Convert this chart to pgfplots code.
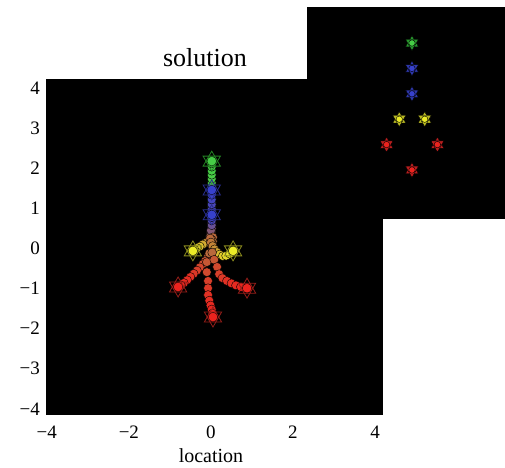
\documentclass[border=0pt]{standalone}
\usepackage{pgfplots}
\pgfplotsset{compat=1.18}
\usepackage{fontspec}
\setmainfont{Liberation Serif}
\definecolor{gfin}{RGB}{70,205,70}
\definecolor{bfin}{RGB}{55,65,205}
\definecolor{yfin}{RGB}{235,235,40}
\definecolor{rfin}{RGB}{235,35,30}
\definecolor{gout}{RGB}{35,130,35}
\definecolor{bout}{RGB}{40,45,140}
\definecolor{yout}{RGB}{140,140,30}
\definecolor{rout}{RGB}{150,30,25}
\definecolor{giout}{RGB}{40,150,45}
\definecolor{biout}{RGB}{45,55,170}
\definecolor{yiout}{RGB}{185,185,35}
\definecolor{riout}{RGB}{185,30,30}
\pgfplotsset{
  traj/.style={scatter, only marks, mark=*, point meta=explicit,
    point meta min=0, point meta max=1,
    scatter/use mapped color={draw=none, fill=mapped color, scale=1.3}},
  hexup/.style={only marks, mark=triangle, mark size=10bp, mark options={line width=0.8bp, draw=#1, fill=none}},
  hexdn/.style={only marks, mark=triangle, mark size=10bp, mark options={line width=0.8bp, draw=#1, fill=none, rotate=180}},
  ihexup/.style={only marks, mark=triangle*, mark size=7.5bp, mark options={draw=none, fill=#1}},
  ihexdn/.style={only marks, mark=triangle*, mark size=7.5bp, mark options={draw=none, fill=#1, rotate=180}},
}
\begin{document}
\begin{tikzpicture}[x=1bp,y=1bp]
\path[use as bounding box] (0,0) rectangle (505,468);
\begin{axis}[
  at={(46bp,54bp)}, anchor=south west,
  scale only axis, width=336bp, height=335bp,
  xmin=-4.02, xmax=4.17, ymin=-4.13, ymax=4.23,
  axis background/.style={fill=black},
  axis line style={black},
  xtick={-4,-2,0,2,4}, xticklabels={−4,−2,0,2,4},
  ytick={-4,-3,-2,-1,0,1,2,3,4}, yticklabels={−4,−3,−2,−1,0,1,2,3,4},
  major tick length=0pt,
  xticklabel style={font=\fontsize{19bp}{22bp}\selectfont, anchor=north, inner sep=0pt},
  yticklabel style={font=\fontsize{19bp}{22bp}\selectfont, anchor=east, inner sep=0pt},
  xticklabel shift=12bp, yticklabel shift=6bp,
  clip=false,
  mark size=3.4bp,
]
% green trajectory
\addplot[traj, colormap={gmap}{rgb255=(185,105,60) rgb255=(70,205,70)}] table[meta=c] {
x y c
0.03 0.05 0
0.05 0.18 0.05
0.03 0.30 0.1
0.01 0.42 0.15
0.02 0.54 0.25
0.02 0.64 0.35
0.02 0.74 0.45
0.02 0.84 0.5
0.02 0.94 0.55
0.02 1.04 0.6
0.02 1.14 0.7
0.02 1.24 0.75
0.02 1.34 0.8
0.02 1.44 0.85
0.02 1.54 0.9
0.02 1.64 0.92
0.02 1.74 0.95
0.02 1.84 0.97
0.02 1.94 1
0.02 2.04 1
0.02 2.12 1
0.02 2.18 1
};
% blue 1
\addplot[traj, colormap={bmapa}{rgb255=(185,105,60) rgb255=(55,65,205)}] table[meta=c] {
x y c
0.04 0.10 0
0.02 0.25 0.1
0.00 0.38 0.2
0.02 0.50 0.35
0.02 0.62 0.5
0.02 0.74 0.6
0.02 0.86 0.7
0.02 0.98 0.8
0.02 1.10 0.85
0.02 1.22 0.9
0.02 1.34 0.95
0.02 1.46 1
};
% blue 2
\addplot[traj, colormap={bmapb}{rgb255=(185,105,60) rgb255=(55,65,205)}] table[meta=c] {
x y c
0.02 0.15 0
-0.02 0.30 0.2
0.00 0.45 0.4
0.02 0.58 0.6
0.02 0.70 0.8
0.02 0.78 0.9
0.02 0.84 1
};
% yellow left
\addplot[traj, colormap={ymapa}{rgb255=(185,105,60) rgb255=(235,235,40)}] table[meta=c] {
x y c
0.05 0.28 0
0.02 0.22 0.1
-0.06 0.18 0.2
-0.13 0.14 0.35
-0.20 0.10 0.5
-0.27 0.05 0.65
-0.34 0.01 0.8
-0.40 -0.03 0.9
-0.44 -0.06 1
};
% yellow right
\addplot[traj, colormap={ymapb}{rgb255=(185,105,60) rgb255=(235,235,40)}] table[meta=c] {
x y c
-0.02 0.25 0
0.00 0.15 0.1
0.04 0.06 0.2
0.09 -0.02 0.3
0.15 -0.09 0.45
0.21 -0.15 0.6
0.29 -0.19 0.75
0.37 -0.18 0.85
0.46 -0.13 0.95
0.54 -0.06 1
};
% red left
\addplot[traj, colormap={rmapa}{rgb255=(185,105,60) rgb255=(235,35,30)}] table[meta=c] {
x y c
-0.02 -0.12 0
-0.08 -0.22 0.15
-0.14 -0.31 0.3
-0.20 -0.39 0.4
-0.27 -0.47 0.5
-0.34 -0.55 0.6
-0.42 -0.63 0.7
-0.50 -0.71 0.8
-0.58 -0.79 0.85
-0.66 -0.86 0.9
-0.73 -0.92 0.95
-0.80 -0.96 1
};
% red bottom
\addplot[traj, colormap={rmapb}{rgb255=(185,105,60) rgb255=(235,35,30)}] table[meta=c] {
x y c
-0.04 -0.12 0
-0.10 -0.34 0.25
-0.10 -0.59 0.45
-0.07 -0.81 0.6
-0.07 -0.99 0.7
-0.07 -1.16 0.8
-0.04 -1.30 0.85
-0.01 -1.42 0.9
0.02 -1.52 0.95
0.04 -1.62 1
0.05 -1.71 1
};
% red right
\addplot[traj, colormap={rmapc}{rgb255=(185,105,60) rgb255=(235,35,30)}] table[meta=c] {
x y c
0.03 -0.10 0
0.08 -0.28 0.25
0.15 -0.46 0.45
0.20 -0.64 0.6
0.28 -0.74 0.7
0.39 -0.81 0.8
0.50 -0.87 0.85
0.61 -0.92 0.9
0.73 -0.96 0.95
0.88 -0.99 1
};
% final positions
\addplot[only marks, mark=*, mark size=4.8bp, mark options={draw=none, fill=gfin}] coordinates {(0.02,2.18)};
\addplot[only marks, mark=*, mark size=4.8bp, mark options={draw=none, fill=bfin}] coordinates {(0.02,1.46) (0.02,0.84)};
\addplot[only marks, mark=*, mark size=4.8bp, mark options={draw=none, fill=yfin}] coordinates {(-0.44,-0.06) (0.54,-0.06)};
\addplot[only marks, mark=*, mark size=4.8bp, mark options={draw=none, fill=rfin}] coordinates {(-0.80,-0.96) (0.88,-0.99) (0.05,-1.71)};
\addplot[hexup=gout] coordinates {(0.02,2.18)};
\addplot[hexdn=gout] coordinates {(0.02,2.18)};
\addplot[hexup=bout] coordinates {(0.02,1.46) (0.02,0.84)};
\addplot[hexdn=bout] coordinates {(0.02,1.46) (0.02,0.84)};
\addplot[hexup=yout] coordinates {(-0.44,-0.06) (0.54,-0.06)};
\addplot[hexdn=yout] coordinates {(-0.44,-0.06) (0.54,-0.06)};
\addplot[hexup=rout] coordinates {(-0.80,-0.96) (0.88,-0.99) (0.05,-1.71)};
\addplot[hexdn=rout] coordinates {(-0.80,-0.96) (0.88,-0.99) (0.05,-1.71)};
\end{axis}
% inset: target configuration
\begin{axis}[
  at={(307bp,250bp)}, anchor=south west,
  scale only axis, width=198bp, height=211bp,
  xmin=-4.13, xmax=3.66, ymin=-1.89, ymax=6.42,
  axis background/.style={fill=black},
  axis line style={black},
  ticks=none,
]
\addplot[ihexup=giout] coordinates {(0,5)};
\addplot[ihexdn=giout] coordinates {(0,5)};
\addplot[ihexup=biout] coordinates {(0,4) (0,3)};
\addplot[ihexdn=biout] coordinates {(0,4) (0,3)};
\addplot[ihexup=yiout] coordinates {(-0.5,2) (0.5,2)};
\addplot[ihexdn=yiout] coordinates {(-0.5,2) (0.5,2)};
\addplot[ihexup=riout] coordinates {(-1,1) (1,1) (0,0)};
\addplot[ihexdn=riout] coordinates {(-1,1) (1,1) (0,0)};
\addplot[only marks, mark=*, mark size=3.2bp, mark options={draw=none, fill=gfin}] coordinates {(0,5)};
\addplot[only marks, mark=*, mark size=3.2bp, mark options={draw=none, fill=bfin}] coordinates {(0,4) (0,3)};
\addplot[only marks, mark=*, mark size=3.2bp, mark options={draw=none, fill=yfin}] coordinates {(-0.5,2) (0.5,2)};
\addplot[only marks, mark=*, mark size=3.2bp, mark options={draw=none, fill=rfin}] coordinates {(-1,1) (1,1) (0,0)};
\end{axis}
\node[anchor=base, font=\fontsize{26bp}{30bp}\selectfont, inner sep=0pt] at (205,401) {solution};
\node[anchor=base, font=\fontsize{20bp}{24bp}\selectfont, inner sep=0pt] at (211,5) {location};
\end{tikzpicture}
\end{document}
